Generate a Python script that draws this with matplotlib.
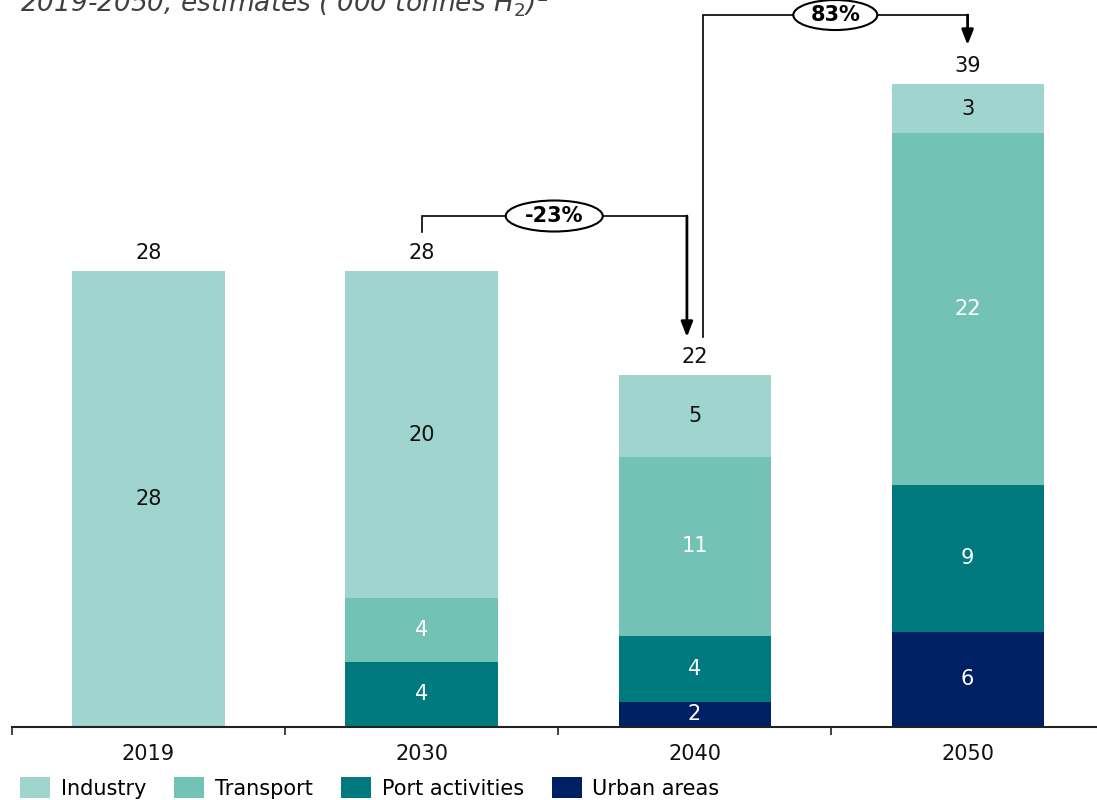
import matplotlib
matplotlib.use("Agg")
import matplotlib.pyplot as plt
from matplotlib.patches import Patch, Ellipse

years = ["2019", "2030", "2040", "2050"]
industry = [28.0, 20.1, 5.0, 3.0]
transport = [0.0, 3.9, 11.0, 21.6]
port = [0.0, 4.0, 4.05, 9.0]
urban = [0.0, 0.0, 1.55, 5.85]
series_names = ["Industry", "Transport", "Port activities", "Urban areas"]
colors = ["#9fd4cf", "#72c3b5", "#007a7e", "#002064"]
label_colors = ["#111111", "white", "white", "white"]

# change brackets: (from bar, to bar, text)
changes = [(1, 2, "-23%"), (2, 3, "83%")]

plt.rcParams["font.family"] = ["DejaVu Sans"]

fig = plt.figure(figsize=(10.97, 8), dpi=100)
ax = fig.add_axes([12 / 1097, 73 / 800, 1085 / 1097, 727 / 800])

x = list(range(len(years)))
stack = [urban, port, transport, industry]
stack_cols = [colors[3], colors[2], colors[1], colors[0]]
stack_lbl = [label_colors[3], label_colors[2], label_colors[1], label_colors[0]]
bottom = [0.0] * len(years)
for vals, col, tc in zip(stack, stack_cols, stack_lbl):
    ax.bar(x, vals, width=0.557, bottom=bottom, color=col, zorder=2)
    for i, v in enumerate(vals):
        if v > 0:
            ax.text(i, bottom[i] + v / 2, f"{v:.0f}", ha="center", va="center",
                    fontsize=15, color=tc, zorder=3)
    bottom = [b + v for b, v in zip(bottom, vals)]

totals = bottom
for i, t in enumerate(totals):
    ax.annotate(f"{t:.0f}", (i, t), xytext=(0, 13), textcoords="offset points",
                ha="center", va="center", fontsize=15, color="#111111")

ax.set_xlim(-0.5, 3.474)
ax.set_ylim(0, 44.63)

for s in ["top", "right", "left"]:
    ax.spines[s].set_visible(False)
ax.spines["bottom"].set_linewidth(1.5)
ax.spines["bottom"].set_color("#222222")
ax.set_yticks([])
ax.set_xticks([-0.5, 0.5, 1.5, 2.5])
ax.set_xticklabels([])
ax.tick_params(axis="x", which="major", direction="out", length=5.5, width=1.2, color="#222222")
ax.set_xticks(x, minor=True)
ax.set_xticklabels(years, minor=True, fontsize=15, color="#111111")
ax.tick_params(axis="x", which="minor", length=0, pad=12)

# brackets with percentage change
px = 16.29  # pixels per unit
def py(y):
    return (727 - y) / px

bracket = [
    # x_left, y_left_start, y_top, x_right, y_tip, ellipse w/h (px)
    (1.0, py(232), py(216), 1.972, py(337), 97, 31),
    (2.031, py(337), py(15), 3.0, py(45), 84, 30),
]
for (xl, yl, yt, xr, ytip, ew, eh), (a, b, txt) in zip(bracket, changes):
    ax.plot([xl, xl, xr], [yl, yt, yt], color="black", lw=1.2, zorder=4,
            solid_joinstyle="miter", clip_on=False)
    ax.annotate("", xy=(xr, ytip), xytext=(xr, yt),
                arrowprops=dict(arrowstyle="-|>,head_length=0.9,head_width=0.35",
                                color="black", lw=2, shrinkA=0, shrinkB=0),
                zorder=4, annotation_clip=False)
    xc = (xl + xr) / 2
    ax.add_patch(Ellipse((xc, yt), ew / 273, eh / px, fc="white", ec="black",
                         lw=1.5, zorder=5, clip_on=False))
    ax.text(xc, yt, txt, ha="center", va="center", fontsize=15,
            fontweight="bold", zorder=6)

fig.text(20 / 1097, 1 - 12 / 800, "2019-2050, estimates ('000 tonnes H$_2$)$^2$",
         fontsize=19, style="italic", color="#404040", va="baseline", ha="left")

handles = [Patch(facecolor=c, edgecolor="none") for c in colors]
fig.legend(handles, series_names, loc="center left", bbox_to_anchor=(20 / 1097, 12 / 800),
           ncol=4, frameon=False, fontsize=15, borderpad=0, borderaxespad=0,
           handlelength=1.45, handleheight=1.15, handletextpad=0.5, columnspacing=1.35)

fig.savefig("out.png", dpi=100)
